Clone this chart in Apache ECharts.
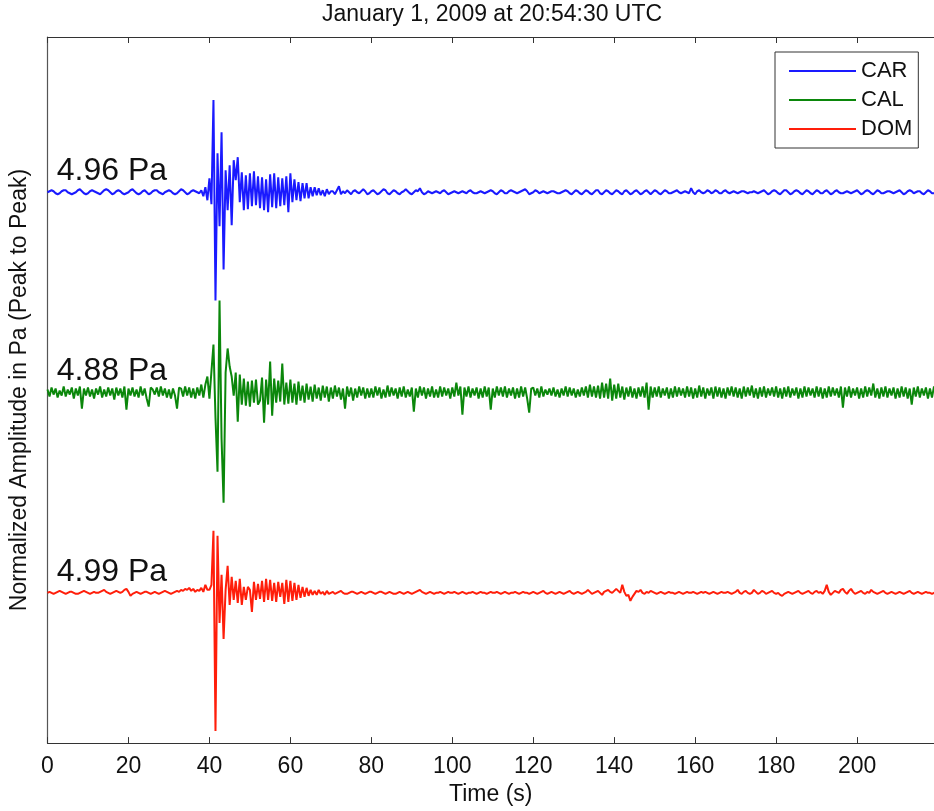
<!DOCTYPE html>
<html>
<head>
<meta charset="utf-8">
<title>Infrasound record, January 1, 2009</title>
<script src="https://cdn.jsdelivr.net/npm/echarts@6/dist/echarts.min.js"></script>
<style>
  html, body { margin: 0; padding: 0; background: #fff; }
  #chart { width: 934px; height: 811px; }
</style>
</head>
<body>
<div id="chart"></div>
<script>
// Sample spacing of the records, seconds
const TIME_STEP = 0.5;

// Station names and peak-to-peak pressure of each record
const stations = ['CAR', 'CAL', 'DOM'];
const peakLabels = ['4.96 Pa', '4.88 Pa', '4.99 Pa'];
// Vertical offset of each trace on the stacked plot
const traceOffsets = [0, -2, -4];
const stationColors = ['#1a1aff', '#0b870b', '#ff1e0a'];

// Normalized amplitudes (hundredths), one value every 0.5 s from 0 s to 220 s
const carAmp = [
  0, 1, 2, 1, -1, -2, -1, 1, 2, 2, 0, -1, -2, -1, 0, 2, 3, 1, -1, -2,
  -1, 1, 2, 1, 0, -1, -2, 0, 2, 3, 2, 0, -2, -1, 1, 2, 1, -1, -2, -1,
  0, 2, 3, 1, -1, -2, -1, 1, 2, 0, -2, -1, 1, 2, 2, 0, -1, -2, 0, 1,
  2, 1, -1, -2, -1, 1, 3, 2, 0, -2, -1, 1, 2, 1, 0, -1, 2, -4, 5, -8,
  14, -12, 92, -108, 39, -34, 60, -77, 22, -18, 27, -33, 32, 12, 35, -10, 20, -18, 17, -17,
  19, -14, 21, -13, 16, -16, 15, -18, 13, -20, 18, -15, 19, -16, 15, -14, 14, -13, 16, -20,
  19, -10, 13, -8, 10, -9, 9, -6, 9, -6, 5, -4, 5, -3, 4, -3, 2, -4, 3, -2,
  1, 1, -2, 2, 6, -2, 1, -1, 2, 0, -2, 1, 2, 0, -1, 1, 3, 1, -2, -1,
  1, 2, 0, -2, -1, 1, 3, 2, -1, -2, 0, 2, 1, -1, -2, 0, 1, 3, 1, -1,
  -2, 0, 2, 1, 4, 0, -2, -1, 1, 0, -1, 0, 1, 0, -1, 1, 2, 0, -2, -1,
  0, 1, 0, -1, 0, 1, 0, -1, 1, 2, 0, -1, -1, 0, 1, 0, -1, 0, 1, 2,
  1, -1, -2, 0, 2, 1, -1, -1, 1, 2, 1, 0, -1, 0, 1, 2, 3, 1, -2, -1,
  0, 2, 1, -1, 0, 1, 0, -1, 0, 1, 1, 0, -1, -1, 0, 1, 2, 1, -1, -2,
  0, 2, 1, -1, -2, 0, 2, 1, -1, -2, 0, 2, 2, -1, -2, 0, 2, 1, -1, -2,
  0, 2, 1, -1, -2, 1, 2, 0, -2, -1, 1, 2, 0, -2, -1, 1, 2, 0, -2, 0,
  2, 1, -1, -2, 0, 2, 1, -1, -1, 0, 1, 2, 0, -1, 0, 1, 0, -1, 4, 0,
  -2, 1, 2, 0, -1, 0, 2, 1, -1, 0, 2, 1, -1, -1, 1, 2, 0, -1, 0, 1,
  0, -1, 0, 1, 1, 0, -1, 0, 0, 1, 0, -1, 0, 1, 2, 0, -2, -1, 1, 2,
  1, -1, -2, 0, 2, 2, 0, -2, -1, 1, 2, 1, -1, -2, 0, 2, 1, -1, -2, 0,
  2, 1, -1, -1, 1, 2, 0, -2, -1, 1, 2, 0, -1, -1, 0, 1, 0, -1, 0, 1,
  2, 0, -2, -1, 1, 2, 1, -1, -2, 0, 2, 1, -1, -1, 0, 1, 1, 0, -1, 0,
  1, 2, 0, -2, -1, 1, 2, 1, -1, 0, 1, 1, -1, -2, 0, 2, 1, -1, -1, 0,
  1
];

const calAmp = [
  3, -4, 5, -2, 4, -5, 2, -3, 6, -4, 3, -2, 5, -6, 4, -3, 6, -16, 4, -3,
  5, -4, 3, -6, 4, -2, 6, -5, 3, -4, 5, -3, 4, -7, 5, -3, 4, -5, 6, -17,
  4, -3, 5, -4, 3, -5, 6, -3, 4, -6, -14, 5, 3, -2, 5, -4, 6, -3, 4, -5,
  3, -6, 4, -3, -16, 5, 4, -4, 6, -3, 5, -5, 4, -6, 5, -3, 8, -5, 8, 16,
  -6, 21, 48, -25, -79, 92, -46, -110, 20, 44, 26, 16, -3, 20, -29, 18, -12, 14, -13, 11,
  -14, 12, -10, 13, -12, -8, 15, -30, 13, -12, 31, -23, 14, -10, 12, -9, 29, -12, 10, -11,
  13, -10, 9, -12, 11, -8, 7, -10, 9, -7, 6, -9, 8, -6, 5, -8, 7, -5, 6, -9,
  5, -6, 7, -4, 5, -7, 4, -16, 6, -4, 5, -8, 4, -5, 6, -3, 5, -6, 4, -5,
  4, -5, 6, -3, 5, -6, 3, -5, 7, -4, 5, -3, 4, -6, 5, -4, 6, -5, 3, -4,
  5, -19, 4, -5, 6, -3, 5, -6, 4, -4, 6, -5, 3, -5, 6, -4, 5, -3, 4, -6,
  5, -4, 10, -3, 6, -22, 5, -4, 6, -5, 4, -3, 5, -6, 4, -5, 6, -4, 5, -17,
  4, -5, 6, -3, 5, -4, 6, -5, 4, -3, 5, -6, 4, -5, 6, -4, 5, -6, -20, 4,
  5, -3, 4, -5, 6, -4, 3, -2, 4, -3, 5, -4, 3, -5, 4, -3, 6, -4, 5, -3,
  4, -5, 3, -4, 5, -3, 6, -5, 8, -4, 6, -5, 7, -6, 10, -5, 9, -6, 14, -8,
  8, -6, 9, -5, 6, -7, 5, -4, 6, -5, 4, -6, 5, -4, 6, -5, 10, -17, 6, -5,
  5, -4, 6, -5, 4, -3, 5, -6, 4, -5, 6, -4, 5, -3, 4, -5, 6, -4, 5, -6,
  4, -5, 7, -4, 5, -6, 4, -3, 5, -6, 6, -4, 5, -5, 4, -6, 5, -3, 6, -4,
  5, -5, 4, -6, 6, -4, 5, -3, 7, -5, 4, -6, 5, -4, 6, -5, 4, -3, 5, -4,
  6, -5, 4, -6, 5, -4, 6, -5, 4, -3, 5, -6, 4, -5, 6, -4, 5, -3, 4, -5,
  6, -4, 5, -6, 4, -5, 6, -4, 5, -3, 4, -5, 6, -15, 5, -4, 6, -5, 4, -3,
  5, -6, 4, -5, 6, -4, 5, -3, 9, -5, 4, -6, 5, -4, 6, -5, 4, -3, 5, -6,
  4, -5, 6, -4, 5, -6, 4, -12, 5, -4, 6, -5, 4, -3, 5, -6, 4, -5, 6, -4,
  5
];

const domAmp = [
  0, 1, 0, -1, 0, 1, 2, 1, 0, -1, 0, 1, 1, 0, -1, -1, 0, 1, 2, 1,
  0, -1, 0, 1, 0, 0, 1, 2, 3, 1, 0, -1, 0, 1, 2, 1, 0, 1, 3, 4,
  1, -3, -1, 0, 1, 0, -1, 0, 1, 1, 0, -1, 0, 1, 0, -1, 0, 1, 2, 1,
  0, -1, 0, 1, 2, 1, 3, 2, 4, 3, 5, 2, 4, 1, 3, 2, 5, 1, 8, 3,
  3, 8, 62, -138, 57, -30, 18, -46, 3, 27, -12, 16, -7, 12, -10, 14, -12, 6, -7, 6,
  3, -19, 11, -7, 9, -6, 12, -9, 14, -7, 13, -8, 10, -9, 11, -4, 10, -11, 13, -9,
  12, -8, 10, -7, 8, -5, 6, -4, 5, -3, 3, -2, 2, -2, 3, -1, 1, -2, 2, -1,
  0, 1, -1, 0, 1, 2, 0, -1, -1, 0, 1, 1, 0, -1, 0, 1, 0, -1, 0, 1,
  1, 0, -1, 0, 1, 1, 0, -1, 0, 1, 0, -1, -1, 0, 1, 0, -1, 0, 1, 0,
  -1, 0, 1, 2, 3, 1, 0, -1, 0, 1, 0, -1, 0, 0, 1, 0, -1, 0, 1, 0,
  0, 1, 0, -1, 0, 1, 0, -1, 0, 0, 1, 0, -1, 0, 1, 0, 0, -1, 0, 1,
  0, 0, 1, 0, -1, 0, 1, 0, -1, 0, 0, 1, 0, -1, 0, 1, 0, 0, -1, 0,
  1, 0, -1, 0, 1, 2, 0, -1, 0, 1, 0, -1, 0, 1, 0, -1, 0, 1, 2, 0,
  -1, 0, 1, 0, -1, 0, 1, 3, 1, -1, 0, 1, 2, 0, -2, 1, 2, 3, 1, 0,
  2, 4, 2, 0, 8, 1, -3, -2, -8, -4, -1, 2, 1, 3, 0, -1, 1, 0, 2, 1,
  0, -1, 0, 1, 0, -1, 0, 1, 0, 0, -1, 0, 1, 0, -1, 0, 1, 0, 0, 1,
  0, -1, 0, 1, 0, 1, 0, -1, 0, 1, 0, -1, 0, 1, 0, 0, 1, 0, -1, 0,
  1, 3, 0, -1, 1, 2, 0, -1, 0, 3, 1, -1, 0, 2, 1, -1, 0, 1, 2, 0,
  -1, 0, -2, -3, -1, 0, 1, 0, -1, 0, 1, 2, 0, -1, 0, 1, 2, 0, -1, 1,
  2, 0, 1, -1, 2, 8, 1, -2, 0, 2, 1, 0, 3, 4, 1, -1, 2, 4, 1, -1,
  0, 1, 2, 0, -1, 1, 0, 3, 1, 0, -1, 0, 1, 2, 0, -1, 0, 1, 0, -1,
  0, 1, 0, -1, 0, 1, 2, 0, -1, 0, 1, 0, -1, 0, 1, 0, 0, -1, 0, 1,
  0
];

const ampSeries = [carAmp, calAmp, domAmp];

// Axis ranges
const TIME_MAX = 219;
const TIME_TICK = 20;
const AMP_MIN = -5.5;
const AMP_MAX = 1.55;

const FONT = '"Liberation Sans", Arial, Helvetica, sans-serif';

const gridLeft = 47.5;
const gridTop = 37;
const gridHeight = 711;
const pxPerSecond = 4.06;

const chart = echarts.init(document.getElementById('chart'), null, { renderer: 'canvas' });

const series = stations.map((name, k) => ({
  name: name,
  type: 'line',
  data: ampSeries[k].map((v, i) => [i * TIME_STEP, v / 100 + traceOffsets[k]]),
  showSymbol: false,
  symbol: 'none',
  lineStyle: { color: stationColors[k], width: 2 },
  itemStyle: { color: stationColors[k] },
  emphasis: { disabled: true },
  silent: true,
  z: 3
}));

chart.setOption({
  animation: false,
  backgroundColor: '#ffffff',
  textStyle: { fontFamily: FONT },
  grid: {
    left: gridLeft,
    top: gridTop,
    width: TIME_MAX * pxPerSecond,
    height: gridHeight,
    containLabel: false
  },
  xAxis: [
    {
      type: 'value',
      position: 'bottom',
      min: 0,
      max: TIME_MAX,
      interval: TIME_TICK,
      name: 'Time (s)',
      nameLocation: 'middle',
      nameGap: 38,
      nameTextStyle: { color: '#111', fontSize: 23, fontFamily: FONT },
      axisLine: { show: true, onZero: false, lineStyle: { color: '#333', width: 1.2 } },
      axisTick: { show: true, inside: true, length: 6, lineStyle: { color: '#333', width: 1 } },
      axisLabel: { color: '#111', fontSize: 23, margin: 12, fontFamily: FONT, showMaxLabel: false },
      splitLine: { show: false }
    },
    {
      type: 'value',
      position: 'top',
      min: 0,
      max: TIME_MAX,
      interval: TIME_TICK,
      axisLine: { show: true, onZero: false, lineStyle: { color: '#333', width: 1.2 } },
      axisTick: { show: true, inside: true, length: 6, lineStyle: { color: '#333', width: 1 } },
      axisLabel: { show: false },
      splitLine: { show: false }
    }
  ],
  yAxis: {
    type: 'value',
    min: AMP_MIN,
    max: AMP_MAX,
    name: 'Normalized Amplitude in Pa (Peak to Peak)',
    nameLocation: 'middle',
    nameGap: 16,
    nameRotate: 90,
    nameTextStyle: { color: '#111', fontSize: 23, fontFamily: FONT },
    axisLine: { show: true, onZero: false, lineStyle: { color: '#555', width: 1.2 } },
    axisTick: { show: false },
    axisLabel: { show: false },
    splitLine: { show: false }
  },
  legend: {
    data: stations,
    orient: 'vertical',
    left: 775,
    top: 52,
    padding: [8, 6, 8, 14],
    itemGap: 7,
    icon: 'rect',
    itemWidth: 67,
    itemHeight: 2,
    backgroundColor: '#ffffff',
    borderColor: '#333',
    borderWidth: 1,
    borderRadius: 0,
    textStyle: { color: '#111', fontSize: 22, fontFamily: FONT },
    selectedMode: false
  },
  series: series
});

// Title and per-trace peak-to-peak annotations
const graphics = [{
  type: 'text',
  x: gridLeft + TIME_MAX * pxPerSecond / 2,
  y: 15,
  style: {
    text: 'January 1, 2009 at 20:54:30 UTC',
    fill: '#111',
    font: '23px ' + FONT,
    align: 'center',
    verticalAlign: 'middle'
  }
}];
stations.forEach((name, k) => {
  const p = chart.convertToPixel({ gridIndex: 0 }, [2.3, traceOffsets[k]]);
  graphics.push({
    type: 'text',
    x: p[0],
    y: p[1] - 5,
    z: 10,
    style: {
      text: peakLabels[k],
      fill: '#111',
      font: '32px ' + FONT,
      align: 'left',
      verticalAlign: 'bottom'
    }
  });
});
chart.setOption({ graphic: graphics });
</script>
</body>
</html>
